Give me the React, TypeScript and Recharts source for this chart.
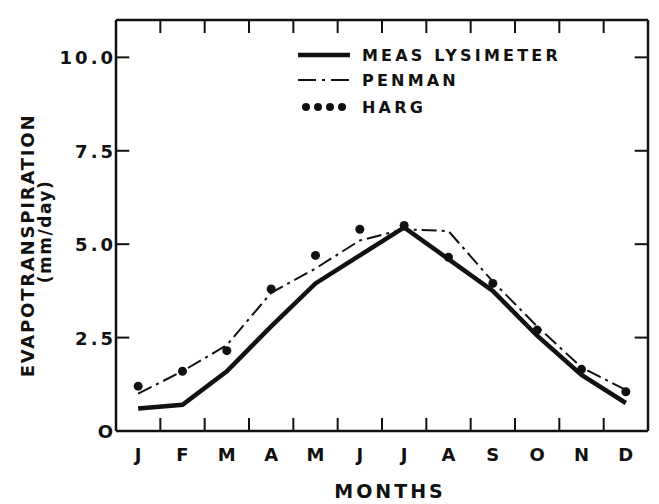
import { Legend, Line, LineChart, ReferenceLine, XAxis, YAxis } from "recharts";

// month letters and data (mm/day)
const months = ["J", "F", "M", "A", "M", "J", "J", "A", "S", "O", "N", "D"];
const meas = [0.6, 0.7, 1.6, 2.8, 3.95, 4.7, 5.45, 4.6, 3.75, 2.55, 1.5, 0.75];
const penman = [1.0, 1.6, 2.3, 3.7, 4.35, 5.1, 5.4, 5.35, 4.0, 2.8, 1.7, 1.1];
const harg = [1.2, 1.6, 2.15, 3.8, 4.7, 5.4, 5.5, 4.65, 3.95, 2.7, 1.65, 1.05];

const seriesNames = ["MEAS LYSIMETER", "PENMAN", "HARG"];
const yTicks = [0, 2.5, 5, 7.5, 10];
const yTickLabels = ["O", "2.5", "5.0", "7.5", "10.0"];
const monthTicks = [1, 2, 3, 4, 5, 6, 7, 8, 9, 10, 11, 12];
// inward tick marks sit on the month boundaries
const boundaryTicks = [1.5, 2.5, 3.5, 4.5, 5.5, 6.5, 7.5, 8.5, 9.5, 10.5, 11.5];
const X_MIN = 0.5;
const X_MAX = 12.5;
const Y_MAX = 11;

const data = months.map((_, i) => ({
  m: i + 1,
  meas: meas[i],
  penman: penman[i],
  harg: harg[i],
}));

const FONT = "'DejaVu Sans', sans-serif";
const INK = "#111";
const TICK_DY = 0.35; // inward tick length in y units (~13px)
const TICK_DX = 0.3; // inward tick length in x units (~13px)

const BottomTick = (props: any) => {
  const { x, y, payload } = props;
  return (
    <text x={x} y={y + 30} textAnchor="middle" fontFamily={FONT} fontWeight="bold" fontSize={18} fill={INK}>
      {months[payload.value - 1]}
    </text>
  );
};

const LeftTick = (props: any) => {
  const { x, y, payload } = props;
  const idx = yTicks.indexOf(payload.value);
  return (
    <text
      x={x}
      y={y + 7}
      textAnchor="end"
      fontFamily={FONT}
      fontWeight="bold"
      fontSize={18}
      letterSpacing={3}
      fill={INK}
    >
      {yTickLabels[idx]}
    </text>
  );
};

const legendText = {
  fontFamily: FONT,
  fontWeight: "bold" as const,
  fontSize: 16,
  letterSpacing: 3.2,
  color: INK,
  marginLeft: 12,
};

const LegendBox = () => (
  <div style={{ display: "flex", flexDirection: "column" }}>
    <div style={{ display: "flex", alignItems: "center", height: 24 }}>
      <svg width={52} height={12}>
        <line x1={0} y1={6} x2={52} y2={6} stroke={INK} strokeWidth={4.5} />
      </svg>
      <span style={legendText}>{seriesNames[0]}</span>
    </div>
    <div style={{ display: "flex", alignItems: "center", height: 26 }}>
      <svg width={52} height={12}>
        <line x1={0} y1={6} x2={52} y2={6} stroke={INK} strokeWidth={2} strokeDasharray="18 6 3 6" />
      </svg>
      <span style={legendText}>{seriesNames[1]}</span>
    </div>
    <div style={{ display: "flex", alignItems: "center", height: 28 }}>
      <svg width={52} height={12}>
        {[8, 20, 32, 44].map((cx) => (
          <circle key={cx} cx={cx} cy={6} r={4} fill={INK} />
        ))}
      </svg>
      <span style={legendText}>{seriesNames[2]}</span>
    </div>
  </div>
);

const MonthsLabel = (p: any) => {
  const vb = p.viewBox || {};
  return (
    <text
      x={(vb.x ?? 116) + (vb.width ?? 532) / 2 + 8}
      y={(vb.y ?? 431) + 67}
      textAnchor="middle"
      fontFamily={FONT}
      fontWeight="bold"
      fontSize={19}
      letterSpacing={3}
      fill={INK}
    >
      MONTHS
    </text>
  );
};

const EtLabel = (p: any) => {
  const vb = p.viewBox || {};
  const cy = (vb.y ?? 20) + (vb.height ?? 411) / 2;
  return (
    <g fontFamily={FONT} fontWeight="bold" fill={INK}>
      <text
        x={27}
        y={cy + 20}
        transform={`rotate(-90 27 ${cy + 20})`}
        textAnchor="middle"
        dominantBaseline="central"
        fontSize={18}
        letterSpacing={1.8}
      >
        EVAPOTRANSPIRATION
      </text>
      <text
        x={45}
        y={cy + 6}
        transform={`rotate(-90 45 ${cy + 6})`}
        textAnchor="middle"
        dominantBaseline="central"
        fontSize={17}
        letterSpacing={1.5}
      >
        (mm/day)
      </text>
    </g>
  );
};

const tickMark = { stroke: INK, strokeWidth: 2, ifOverflow: "visible" as const };

export default function App() {
  return (
    <div style={{ width: 659, height: 504, background: "#fff" }}>
      <style>{`body{margin:0}`}</style>
      <LineChart width={659} height={504} data={data} margin={{ top: 19, right: 10, bottom: 72, left: 115 }}>
        <XAxis
          dataKey="m"
          type="number"
          domain={[X_MIN, X_MAX]}
          ticks={monthTicks}
          interval={0}
          height={1}
          tickSize={0}
          tickMargin={0}
          tick={(p: any) => <BottomTick {...p} />}
          axisLine={{ stroke: INK, strokeWidth: 2.5 }}
          label={<MonthsLabel />}
        />
        <XAxis
          xAxisId="top"
          orientation="top"
          type="number"
          domain={[X_MIN, X_MAX]}
          height={1}
          tick={false}
          tickLine={false}
          axisLine={{ stroke: INK, strokeWidth: 2.5 }}
        />
        <YAxis
          type="number"
          domain={[0, Y_MAX]}
          ticks={yTicks}
          interval={0}
          width={1}
          tickSize={0}
          tickMargin={0}
          tick={(p: any) => <LeftTick {...p} />}
          axisLine={{ stroke: INK, strokeWidth: 2.5 }}
          label={<EtLabel />}
        />
        <YAxis
          yAxisId="right"
          orientation="right"
          type="number"
          domain={[0, Y_MAX]}
          width={1}
          tick={false}
          tickLine={false}
          axisLine={{ stroke: INK, strokeWidth: 2.5 }}
        />
        {boundaryTicks.map((b) => (
          <ReferenceLine key={`b${b}`} segment={[{ x: b, y: 0 }, { x: b, y: TICK_DY }]} {...tickMark} />
        ))}
        {boundaryTicks.map((b) => (
          <ReferenceLine key={`t${b}`} segment={[{ x: b, y: Y_MAX }, { x: b, y: Y_MAX - TICK_DY }]} {...tickMark} />
        ))}
        {yTicks
          .filter((t) => t > 0)
          .map((t) => (
            <ReferenceLine key={`l${t}`} segment={[{ x: X_MIN, y: t }, { x: X_MIN + TICK_DX, y: t }]} {...tickMark} />
          ))}
        {yTicks
          .filter((t) => t > 0)
          .map((t) => (
            <ReferenceLine key={`r${t}`} segment={[{ x: X_MAX, y: t }, { x: X_MAX - TICK_DX, y: t }]} {...tickMark} />
          ))}
        <Legend
          layout="vertical"
          align="center"
          verticalAlign="middle"
          wrapperStyle={{ top: 43, left: 298, width: 320 }}
          content={() => <LegendBox />}
        />
        <Line
          dataKey="meas"
          name={seriesNames[0]}
          stroke={INK}
          strokeWidth={4.5}
          dot={false}
          activeDot={false}
          isAnimationActive={false}
        />
        <Line
          dataKey="penman"
          name={seriesNames[1]}
          stroke={INK}
          strokeWidth={2}
          strokeDasharray="15 5 3 5"
          dot={false}
          activeDot={false}
          isAnimationActive={false}
        />
        <Line
          dataKey="harg"
          name={seriesNames[2]}
          stroke="none"
          dot={{ r: 4.5, fill: INK, stroke: "none" }}
          activeDot={false}
          isAnimationActive={false}
        />
      </LineChart>
    </div>
  );
}
